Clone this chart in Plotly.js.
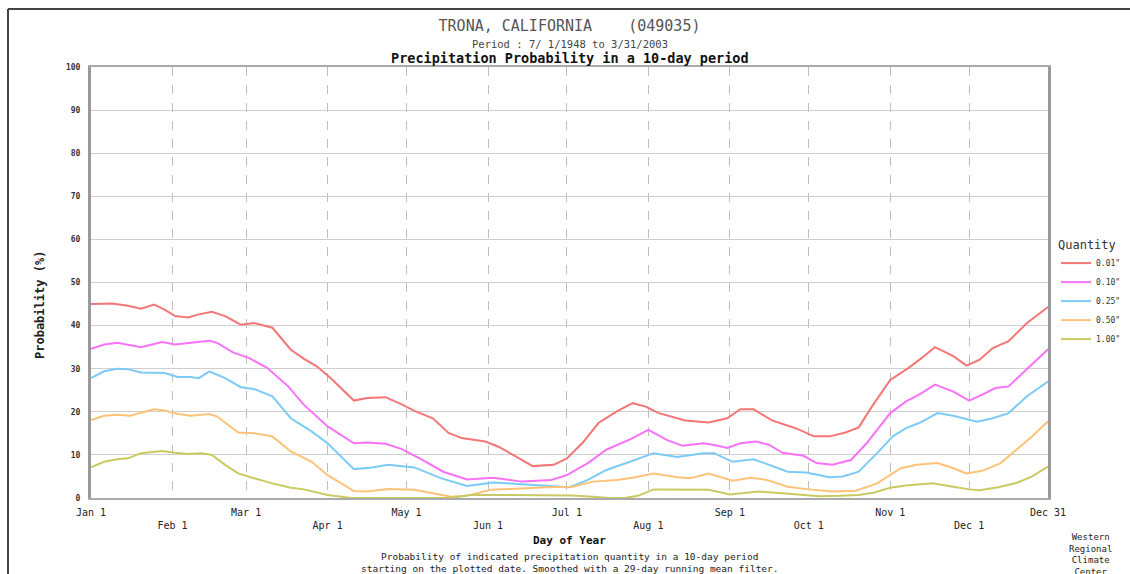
<!DOCTYPE html>
<html>
<head>
<meta charset="utf-8">
<script src="https://cdn.plot.ly/plotly-3.0.1.min.js"></script>
<style>html,body{margin:0;padding:0;background:#fff;}#chart{width:1130px;height:574px;}</style>
</head>
<body>
<div id="chart"></div>
<script>
// Day of year (Jan 1 = 0) and probability (%) for each quantity
const seriesNames = ['0.01"', '0.10"', '0.25"', '0.50"', '1.00"'];
const seriesColors = ['#f47676', '#f872f8', '#7ccaf6', '#fcc278', '#caca62'];

const days01 = [0,8,14,19,24,28,32,37,41,46,51,57,62,69,76,81,86,91,100,105,112,118,123,130,136,141,150,155,162,168,176,181,187,193,200,206,211,216,226,235,242,247,252,259,268,275,281,287,292,297,304,311,316,321,328,333,338,343,349,356,364];
const p01 = [45.0,45.1,44.6,43.9,44.9,43.7,42.2,41.9,42.6,43.2,42.2,40.2,40.6,39.5,34.4,32.3,30.5,27.9,22.6,23.2,23.4,21.8,20.2,18.5,15.1,13.9,13.1,11.9,9.5,7.4,7.7,9.2,12.8,17.4,20.1,22.0,21.2,19.7,18.0,17.5,18.5,20.6,20.6,18.0,16.2,14.3,14.3,15.2,16.4,21.2,27.4,30.2,32.5,35.0,32.9,30.7,32.1,34.8,36.4,40.6,44.3];

const days10 = [0,5,10,19,27,32,38,45,48,54,60,67,75,81,90,100,105,112,118,125,134,143,153,164,175,181,189,196,205,212,219,225,233,237,242,247,253,258,263,271,276,282,289,295,304,310,315,321,328,334,339,344,349,355,364];
const p10 = [34.6,35.6,36.0,35.0,36.2,35.6,36.0,36.5,36.0,33.8,32.5,30.2,25.9,21.6,16.6,12.7,12.9,12.6,11.4,9.2,6.1,4.3,4.7,3.8,4.2,5.3,8.1,11.2,13.6,15.8,13.5,12.1,12.7,12.3,11.6,12.7,13.1,12.3,10.5,9.8,8.1,7.7,8.8,12.7,19.7,22.4,24.0,26.3,24.7,22.6,24.0,25.5,25.9,29.4,34.5];

const days25 = [0,5,10,14,19,28,33,38,41,45,51,57,62,69,76,84,90,100,107,113,123,133,143,153,164,175,182,189,196,205,214,223,233,237,244,252,257,265,272,281,286,292,299,305,310,315,322,328,337,343,349,356,364];
const p25 = [27.8,29.4,30.0,29.9,29.1,29.0,28.1,28.1,27.8,29.4,27.8,25.7,25.3,23.6,18.5,15.4,12.7,6.7,7.1,7.7,7.1,4.6,2.8,3.6,3.2,2.8,2.5,4.2,6.5,8.4,10.4,9.5,10.4,10.4,8.4,9.0,7.9,6.1,5.9,4.8,5.0,6.1,10.4,14.3,16.2,17.4,19.7,19.1,17.7,18.5,19.7,23.6,27.0];

const days50 = [0,5,10,15,19,24,28,33,38,45,48,56,62,69,76,84,90,100,105,113,123,130,137,143,152,160,173,183,191,200,206,214,223,228,235,244,251,257,265,273,282,291,299,308,314,322,328,333,339,346,352,358,364];
const p50 = [18.1,19.1,19.3,19.1,19.8,20.6,20.3,19.5,19.1,19.5,18.9,15.2,15.0,14.3,10.8,8.4,5.3,1.6,1.5,2.1,1.9,1.1,0.3,0.5,1.9,2.1,2.5,2.6,3.8,4.2,4.7,5.7,4.8,4.6,5.7,4.0,4.7,4.2,2.6,2.0,1.5,1.7,3.4,6.9,7.7,8.1,6.9,5.7,6.3,8.1,11.2,14.3,17.8];

const days100 = [0,5,10,14,19,27,32,37,42,46,51,56,62,69,76,81,90,99,120,135,140,144,152,170,183,191,197,203,208,214,225,235,243,254,263,270,277,285,292,298,304,310,320,328,334,338,345,352,358,364];
const p100 = [7.1,8.4,9.0,9.2,10.4,10.9,10.5,10.2,10.4,10.0,7.7,5.7,4.6,3.4,2.4,2.0,0.7,0.0,0.0,0.0,0.3,0.7,0.7,0.6,0.6,0.3,0.0,0.0,0.5,2.0,2.0,1.9,0.8,1.5,1.1,0.7,0.4,0.5,0.7,1.3,2.4,2.9,3.4,2.6,2.0,1.8,2.5,3.5,5.0,7.3];

const monthTickDays = [0,31,59,90,120,151,181,212,243,273,304,334,364];
const monthTickLabels = ['Jan 1','Feb 1','Mar 1','Apr 1','May 1','Jun 1','Jul 1','Aug 1','Sep 1','Oct 1','Nov 1','Dec 1','Dec 31'];
const yTickVals = [0,10,20,30,40,50,60,70,80,90,100];

const xs = [days01, days10, days25, days50, days100];
const ys = [p01, p10, p25, p50, p100];

const mono = 'DejaVu Sans Mono, monospace';

const traces = seriesNames.map((n, i) => ({
  type: 'scatter', mode: 'lines', name: n,
  x: xs[i], y: ys[i],
  line: {color: seriesColors[i], width: 2, shape: 'linear'},
  hoverinfo: 'skip'
}));

// staggered tick labels: odd ones on a second row
const tickText = monthTickLabels.map((t, i) => (i % 2 === 1 && i !== monthTickLabels.length - 1) ? '\u00a0<br>' + t : t);

const layout = {
  width: 1130, height: 574,
  margin: {l: 91, r: 82, t: 67, b: 76, pad: 0},
  paper_bgcolor: '#ffffff', plot_bgcolor: '#ffffff',
  showlegend: true,
  title: {
    text: 'TRONA, CALIFORNIA\u00a0\u00a0\u00a0\u00a0(049035)',
    font: {family: mono, size: 15, color: '#555555'},
    x: 0.5, xref: 'paper', xanchor: 'center',
    y: 1 - 26/574, yref: 'container', yanchor: 'middle'
  },
  xaxis: {
    range: [0, 364],
    tickmode: 'array', tickvals: monthTickDays, ticktext: tickText,
    tickfont: {family: mono, size: 10, color: '#222222'},
    ticks: 'outside', ticklen: 4, tickcolor: 'rgba(0,0,0,0)',
    showgrid: true, gridcolor: '#bdbdbd', griddash: 'dash', gridwidth: 1,
    showline: true, linecolor: '#aaaaaa', linewidth: 2, mirror: true,
    zeroline: false, fixedrange: true
  },
  yaxis: {
    range: [0, 100],
    tickmode: 'array', tickvals: yTickVals,
    tickfont: {family: mono, size: 8, color: '#333333', weight: 'bold'},
    ticks: 'outside', ticklen: 6, tickcolor: 'rgba(0,0,0,0)',
    showgrid: true, gridcolor: '#cfcfcf', gridwidth: 1,
    showline: true, linecolor: '#9a9a9a', linewidth: 3, mirror: true,
    zeroline: false, fixedrange: true
  },
  legend: {
    xref: 'container', yref: 'container',
    x: 1056/1130, xanchor: 'left', y: 1 - 233/574, yanchor: 'top',
    title: {text: 'Quantity', font: {family: mono, size: 12, color: '#333333'}},
    font: {family: mono, size: 8, color: '#333333'},
    itemwidth: 30, tracegroupgap: 0, bgcolor: 'rgba(0,0,0,0)'
  },
  shapes: [
    {type: 'line', xref: 'paper', yref: 'paper', x0: (8-91)/957, x1: 1.2, y0: (498-9)/431, y1: (498-9)/431, line: {color: '#444444', width: 2}},
    {type: 'line', xref: 'paper', yref: 'paper', x0: (8-91)/957, x1: (8-91)/957, y0: (498-9)/431, y1: -0.2, line: {color: '#444444', width: 2}}
  ],
  annotations: [
    {text: 'Period : 7/ 1/1948 to 3/31/2003', xref: 'paper', yref: 'paper', x: 0.5, y: (498-44)/431, xanchor: 'center', yanchor: 'middle', showarrow: false, font: {family: mono, size: 10.5, color: '#444444'}},
    {text: '<b>Precipitation Probability in a 10-day period</b>', xref: 'paper', yref: 'paper', x: 0.5, y: (498-57.5)/431, xanchor: 'center', yanchor: 'middle', showarrow: false, font: {family: mono, size: 13.5, color: '#111111'}},
    {text: '<b>Probability (%)</b>', xref: 'paper', yref: 'paper', x: (40-91)/957, y: (498-305)/431, xanchor: 'center', yanchor: 'middle', textangle: -90, showarrow: false, font: {family: mono, size: 12, color: '#222222'}},
    {text: '<b>Day of Year</b>', xref: 'paper', yref: 'paper', x: 0.5, y: (498-540)/431, xanchor: 'center', yanchor: 'middle', showarrow: false, font: {family: mono, size: 11, color: '#111111'}},
    {text: 'Probability of indicated precipitation quantity in a 10-day period<br>starting on the plotted date. Smoothed with a 29-day running mean filter.', xref: 'paper', yref: 'paper', x: 0.5, y: (498-562)/431, xanchor: 'center', yanchor: 'middle', showarrow: false, font: {family: mono, size: 9.5, color: '#222222'}},
    {text: 'Western<br>Regional<br>Climate<br>Center', xref: 'paper', yref: 'paper', x: (1090-91)/957, y: (498-530)/431, xanchor: 'center', yanchor: 'top', showarrow: false, font: {family: mono, size: 9, color: '#222222'}}
  ]
};

Plotly.newPlot('chart', traces, layout, {displayModeBar: false, staticPlot: true});
</script>
</body>
</html>
